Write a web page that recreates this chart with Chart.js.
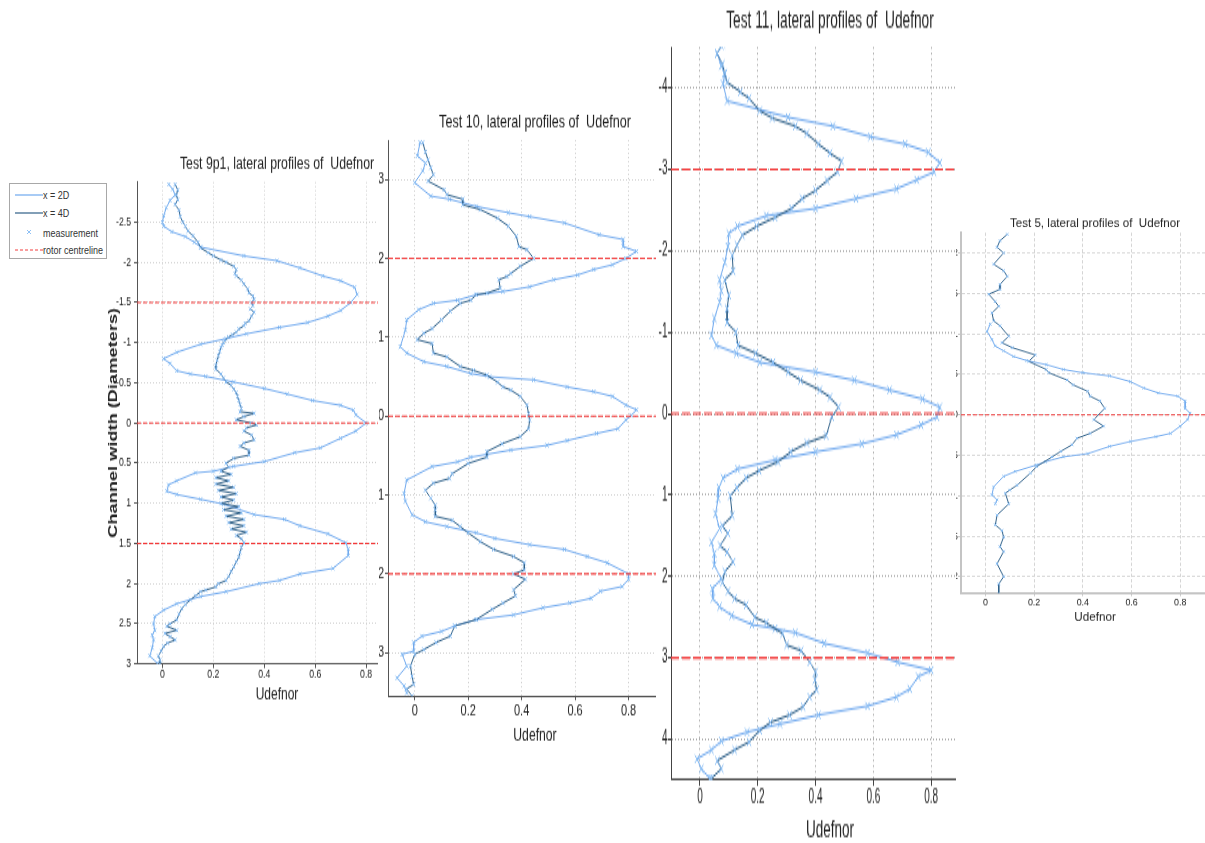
<!DOCTYPE html>
<html>
<head>
<meta charset="utf-8">
<title>Lateral profiles of Udefnor</title>
<script src="https://cdn.jsdelivr.net/npm/chart.js@4.4.0/dist/chart.umd.min.js"></script>
<style>
  html, body { margin: 0; padding: 0; background: #fff; }
  body { width: 1205px; height: 843px; position: relative; overflow: hidden;
         font-family: "Liberation Sans", Arial, sans-serif; }
  .panel { position: absolute; overflow: hidden; }
  .panel canvas { position: absolute; transform-origin: 0 0; }
  #legend { position: absolute; left: 9px; top: 183px; width: 96px; height: 74px;
            border: 1px solid #a8a8a8; background: #fff; font-size: 9px; color: #333; }
  #legend svg { position: absolute; left: 5px; }
  #legend span { position: absolute; left: 33px; line-height: 10px; white-space: nowrap;
                 transform: scaleY(1.2); transform-origin: 0 50%; }
</style>
</head>
<body>

<div class="panel" id="box9"><canvas id="chart9"></canvas></div>
<div class="panel" id="box10"><canvas id="chart10"></canvas></div>
<div class="panel" id="box11"><canvas id="chart11"></canvas></div>
<div class="panel" id="box5"><canvas id="chart5"></canvas></div>

<div id="legend">
  <svg width="28" height="6" style="top:8px"><line x1="0" y1="3" x2="28" y2="3" stroke="#6fa8ee" stroke-width="1.2"/></svg>
  <span style="top:6px">x = 2D</span>
  <svg width="28" height="6" style="top:26px"><line x1="0" y1="3" x2="28" y2="3" stroke="#2f6088" stroke-width="1.2"/></svg>
  <span style="top:24px">x = 4D</span>
  <svg width="28" height="8" style="top:44px"><path d="M12 2 L16 6 M16 2 L12 6" stroke="#8fc1f5" stroke-width="1"/></svg>
  <span style="top:44px">measurement</span>
  <svg width="28" height="6" style="top:63px"><line x1="0" y1="3" x2="28" y2="3" stroke="#f23c3c" stroke-width="1" stroke-dasharray="3,2"/></svg>
  <span style="top:61px">rotor centreline</span>
</div>

<script>
// ---- data: [channel width (diameters), Udefnor] ----
const udefRange = [-0.1, 1.0];
const udefTicks = [0, 0.2, 0.4, 0.6, 0.8];

// Test 9p1
const t9Ticks = [-2.5, -2, -1.5, -1, -0.5, 0, 0.5, 1, 1.5, 2, 2.5, 3];
const t9Centres = [-1.5, 0, 1.5];
const t9_2D = [[-2.97,0.025],[-2.91,0.04],[-2.84,0.05],[-2.77,0.03],[-2.68,0.015],[-2.58,0.005],[-2.50,0.0],
  [-2.45,0.005],[-2.38,0.037],[-2.32,0.09],[-2.25,0.125],[-2.19,0.15],[-2.08,0.32],[-2.02,0.45],[-1.93,0.54],
  [-1.83,0.63],[-1.77,0.70],[-1.69,0.755],[-1.60,0.765],[-1.50,0.74],[-1.40,0.70],[-1.33,0.65],[-1.25,0.57],
  [-1.19,0.46],[-1.11,0.33],[-1.05,0.25],[-0.98,0.15],[-0.88,0.056],[-0.80,0.004],[-0.74,0.03],[-0.65,0.056],
  [-0.61,0.11],[-0.58,0.17],[-0.51,0.28],[-0.43,0.40],[-0.36,0.49],[-0.28,0.59],[-0.22,0.70],[-0.16,0.75],
  [-0.10,0.76],[0.0,0.80],[0.10,0.76],[0.19,0.70],[0.31,0.62],[0.37,0.52],[0.48,0.40],[0.54,0.28],[0.60,0.20],
  [0.62,0.13],[0.72,0.056],[0.77,0.024],[0.85,0.017],[0.89,0.056],[0.95,0.15],[1.01,0.24],[1.14,0.36],
  [1.20,0.48],[1.28,0.54],[1.38,0.65],[1.49,0.72],[1.57,0.73],[1.65,0.73],[1.81,0.67],[1.88,0.54],[1.96,0.46],
  [2.00,0.38],[2.10,0.25],[2.16,0.15],[2.25,0.056],[2.33,0.004],[2.41,-0.03],[2.50,-0.035],[2.58,-0.03],
  [2.64,-0.04],[2.70,-0.035],[2.80,-0.04],[2.90,-0.05],[2.99,-0.02]];
const t9_4D = [[-2.97,0.05],[-2.90,0.06],[-2.84,0.055],[-2.78,0.06],[-2.72,0.05],[-2.65,0.065],[-2.57,0.07],
  [-2.50,0.08],[-2.45,0.09],[-2.39,0.10],[-2.33,0.12],[-2.25,0.14],[-2.18,0.15],[-2.12,0.18],[-2.08,0.20],
  [-2.03,0.23],[-2.00,0.25],[-1.95,0.28],[-1.91,0.29],[-1.86,0.285],[-1.83,0.29],[-1.78,0.31],[-1.73,0.32],
  [-1.67,0.335],[-1.62,0.34],[-1.58,0.355],[-1.54,0.36],[-1.50,0.35],[-1.46,0.355],[-1.42,0.345],[-1.38,0.36],
  [-1.33,0.35],[-1.27,0.34],[-1.24,0.325],[-1.21,0.32],[-1.17,0.30],[-1.13,0.29],[-1.10,0.275],[-1.07,0.26],
  [-1.03,0.245],[-1.00,0.24],[-0.97,0.235],[-0.94,0.23],[-0.89,0.225],[-0.84,0.22],[-0.78,0.215],[-0.72,0.21],
  [-0.67,0.21],[-0.61,0.23],[-0.56,0.24],[-0.51,0.25],[-0.47,0.27],[-0.42,0.28],[-0.38,0.29],[-0.33,0.295],
  [-0.28,0.30],[-0.23,0.305],[-0.18,0.31],[-0.14,0.305],[-0.12,0.36],[-0.08,0.32],[-0.04,0.29],[0.0,0.35],
  [0.025,0.37],[0.06,0.33],[0.10,0.32],[0.15,0.35],[0.21,0.36],[0.25,0.32],[0.29,0.305],[0.34,0.34],[0.40,0.34],
  [0.44,0.28],[0.50,0.25],[0.55,0.26],[0.60,0.23],[0.64,0.27],[0.68,0.21],[0.72,0.26],[0.76,0.21],[0.80,0.28],
  [0.84,0.22],[0.88,0.29],[0.92,0.23],[0.96,0.28],[1.00,0.23],[1.04,0.30],[1.08,0.24],[1.12,0.31],[1.16,0.25],
  [1.20,0.32],[1.24,0.26],[1.28,0.32],[1.32,0.27],[1.36,0.33],[1.40,0.29],[1.44,0.31],[1.49,0.32],[1.55,0.31],
  [1.61,0.305],[1.67,0.30],[1.73,0.29],[1.79,0.28],[1.85,0.27],[1.91,0.26],[1.96,0.25],[2.00,0.22],[2.04,0.21],
  [2.08,0.17],[2.10,0.15],[2.15,0.13],[2.20,0.11],[2.26,0.09],[2.31,0.076],[2.38,0.065],[2.45,0.056],[2.50,0.03],
  [2.53,0.017],[2.58,0.056],[2.62,0.01],[2.66,0.03],[2.70,0.05],[2.74,0.02],[2.78,0.004],[2.84,-0.005],
  [2.90,-0.016],[2.95,-0.01],[3.0,-0.01]];

// Test 10
const t10Ticks = [-3, -2, -1, 0, 1, 2, 3];
const t10Centres = [-2, 0, 2];
const t10_2D = [[-3.47,0.02],[-3.30,0.01],[-3.21,0.04],[-3.11,0.03],[-2.96,0.0],[-2.79,0.06],[-2.75,0.13],
  [-2.66,0.23],[-2.58,0.35],[-2.53,0.43],[-2.45,0.56],[-2.30,0.69],[-2.24,0.78],[-2.15,0.78],[-2.09,0.83],
  [-2.00,0.79],[-1.92,0.74],[-1.86,0.67],[-1.79,0.61],[-1.73,0.52],[-1.64,0.43],[-1.58,0.33],[-1.54,0.23],
  [-1.47,0.16],[-1.43,0.07],[-1.35,0.015],[-1.22,-0.03],[-1.09,-0.035],[-0.88,-0.054],[-0.80,-0.03],
  [-0.69,0.034],[-0.63,0.12],[-0.54,0.21],[-0.50,0.28],[-0.46,0.445],[-0.37,0.57],[-0.31,0.67],[-0.25,0.74],
  [-0.14,0.79],[-0.08,0.83],[-0.01,0.81],[0.05,0.79],[0.16,0.76],[0.22,0.68],[0.31,0.57],[0.37,0.495],
  [0.43,0.36],[0.52,0.21],[0.58,0.16],[0.64,0.065],[0.81,-0.03],[0.98,-0.04],[1.08,-0.035],[1.25,-0.01],
  [1.34,0.04],[1.40,0.12],[1.48,0.23],[1.55,0.30],[1.63,0.43],[1.69,0.56],[1.78,0.645],[1.86,0.72],[2.00,0.80],
  [2.07,0.80],[2.16,0.776],[2.22,0.695],[2.31,0.66],[2.37,0.58],[2.43,0.48],[2.52,0.37],[2.58,0.23],[2.66,0.15],
  [2.73,0.10],[2.79,0.027],[2.87,-0.004],[2.98,-0.004],[3.02,-0.047],[3.17,-0.03],[3.32,-0.066],[3.42,-0.04],
  [3.51,-0.03]];
const t10_4D = [[-3.47,0.03],[-3.35,0.04],[-3.25,0.05],[-3.15,0.06],[-3.06,0.07],[-2.98,0.05],[-2.87,0.11],
  [-2.81,0.12],[-2.75,0.18],[-2.68,0.18],[-2.62,0.245],[-2.51,0.31],[-2.41,0.35],[-2.28,0.38],[-2.15,0.39],
  [-2.11,0.42],[-2.00,0.445],[-1.90,0.395],[-1.81,0.36],[-1.77,0.345],[-1.73,0.315],[-1.62,0.32],[-1.56,0.27],
  [-1.54,0.23],[-1.47,0.21],[-1.43,0.17],[-1.33,0.133],[-1.22,0.10],[-1.11,0.065],[-1.05,0.034],[-0.97,0.009],
  [-0.92,0.065],[-0.80,0.07],[-0.75,0.12],[-0.63,0.17],[-0.58,0.22],[-0.52,0.27],[-0.43,0.31],[-0.37,0.33],
  [-0.33,0.36],[-0.25,0.395],[-0.14,0.42],[-0.03,0.426],[0.05,0.43],[0.16,0.426],[0.26,0.395],[0.35,0.327],
  [0.45,0.27],[0.52,0.27],[0.60,0.20],[0.73,0.14],[0.79,0.13],[0.85,0.07],[0.94,0.04],[1.04,0.06],[1.13,0.077],
  [1.19,0.077],[1.27,0.077],[1.32,0.14],[1.40,0.17],[1.48,0.20],[1.59,0.245],[1.69,0.295],[1.78,0.37],
  [1.86,0.41],[1.95,0.41],[2.00,0.37],[2.07,0.414],[2.20,0.37],[2.28,0.377],[2.37,0.33],[2.45,0.29],[2.58,0.23],
  [2.66,0.15],[2.79,0.133],[2.87,0.08],[2.96,0.034],[3.02,0.0],[3.17,-0.016],[3.30,-0.01],[3.40,-0.004],
  [3.46,-0.03],[3.55,-0.01]];

// Test 11
const t11Ticks = [-4, -3, -2, -1, 0, 1, 2, 3, 4];
const t11Centres = [-3, 0, 3];
const t11_2D = [[-4.54,0.08],[-4.42,0.06],[-4.27,0.074],[-4.17,0.086],[-4.05,0.08],[-3.84,0.094],[-3.64,0.305],
  [-3.53,0.46],[-3.40,0.59],[-3.31,0.71],[-3.21,0.79],[-3.08,0.83],[-2.97,0.81],[-2.87,0.75],[-2.76,0.68],
  [-2.64,0.54],[-2.52,0.40],[-2.43,0.23],[-2.30,0.13],[-2.21,0.10],[-2.05,0.097],[-1.86,0.086],[-1.64,0.068],
  [-1.51,0.074],[-1.37,0.068],[-1.17,0.05],[-0.96,0.04],[-0.84,0.057],[-0.74,0.126],[-0.63,0.207],[-0.51,0.40],
  [-0.41,0.534],[-0.29,0.656],[-0.18,0.77],[-0.08,0.83],[0.04,0.82],[0.14,0.765],[0.26,0.68],[0.37,0.56],
  [0.47,0.40],[0.57,0.26],[0.68,0.13],[0.79,0.08],[0.91,0.066],[1.04,0.063],[1.23,0.054],[1.41,0.068],
  [1.58,0.04],[1.72,0.05],[1.86,0.05],[2.03,0.074],[2.15,0.043],[2.27,0.045],[2.37,0.068],[2.48,0.11],
  [2.59,0.18],[2.64,0.26],[2.69,0.33],[2.82,0.43],[2.94,0.58],[3.05,0.684],[3.15,0.80],[3.23,0.755],
  [3.38,0.726],[3.48,0.68],[3.59,0.58],[3.70,0.41],[3.81,0.277],[3.91,0.163],[4.02,0.074],[4.13,0.04],
  [4.24,-0.01],[4.36,0.005],[4.48,0.034]];
const t11_4D = [[-4.52,0.074],[-4.42,0.06],[-4.29,0.078],[-4.18,0.085],[-4.07,0.094],[-3.95,0.14],[-3.87,0.17],
  [-3.72,0.207],[-3.63,0.25],[-3.53,0.33],[-3.44,0.37],[-3.31,0.41],[-3.20,0.45],[-3.10,0.49],[-2.97,0.476],
  [-2.86,0.44],[-2.74,0.40],[-2.64,0.354],[-2.52,0.317],[-2.41,0.26],[-2.30,0.196],[-2.19,0.147],[-2.07,0.128],
  [-1.94,0.112],[-1.75,0.115],[-1.64,0.086],[-1.45,0.10],[-1.29,0.094],[-1.12,0.094],[-1.00,0.124],[-0.84,0.132],
  [-0.74,0.193],[-0.63,0.253],[-0.51,0.305],[-0.41,0.348],[-0.29,0.415],[-0.20,0.45],[-0.08,0.48],[0.04,0.456],
  [0.27,0.437],[0.36,0.37],[0.47,0.314],[0.59,0.27],[0.70,0.205],[0.79,0.16],[0.91,0.128],[1.01,0.105],
  [1.25,0.112],[1.38,0.078],[1.47,0.097],[1.62,0.07],[1.70,0.094],[1.82,0.115],[1.94,0.086],[2.07,0.078],
  [2.18,0.097],[2.27,0.12],[2.35,0.16],[2.50,0.19],[2.57,0.23],[2.70,0.286],[2.84,0.30],[2.91,0.35],[3.05,0.38],
  [3.17,0.40],[3.27,0.398],[3.39,0.404],[3.48,0.38],[3.60,0.357],[3.70,0.31],[3.79,0.244],[3.89,0.207],
  [4.03,0.17],[4.13,0.12],[4.26,0.06],[4.36,0.074],[4.48,0.04]];

// Test 5
const t5Ticks = [-2, -1.5, -1, -0.5, 0, 0.5, 1, 1.5, 2];
const t5Centres = [0];
const t5_2D = [[-1.12,0.02],[-1.03,0.007],[-0.93,0.027],[-0.85,0.04],[-0.79,0.075],[-0.72,0.116],[-0.67,0.17],
  [-0.62,0.25],[-0.56,0.32],[-0.52,0.40],[-0.48,0.51],[-0.41,0.595],[-0.33,0.65],[-0.27,0.71],[-0.23,0.79],
  [-0.17,0.82],[-0.08,0.82],[-0.02,0.84],[0.06,0.83],[0.14,0.80],[0.23,0.76],[0.27,0.70],[0.33,0.595],
  [0.39,0.51],[0.48,0.42],[0.52,0.32],[0.58,0.246],[0.62,0.21],[0.70,0.123],[0.76,0.075],[0.89,0.034],
  [0.99,0.027],[1.05,0.048],[1.10,0.041]];
const t5_4D = [[-2.23,0.09],[-2.15,0.06],[-2.07,0.048],[-2.0,0.075],[-1.86,0.034],[-1.78,0.075],[-1.71,0.09],
  [-1.61,0.06],[-1.55,0.06],[-1.49,0.014],[-1.40,0.04],[-1.34,0.055],[-1.26,0.027],[-1.16,0.034],[-1.10,0.06],
  [-0.97,0.096],[-0.89,0.068],[-0.83,0.11],[-0.74,0.205],[-0.66,0.178],[-0.56,0.25],[-0.52,0.26],[-0.43,0.335],
  [-0.37,0.36],[-0.29,0.42],[-0.23,0.43],[-0.17,0.47],[-0.08,0.49],[0.06,0.445],[0.14,0.485],[0.23,0.43],
  [0.29,0.376],[0.37,0.356],[0.45,0.31],[0.52,0.274],[0.64,0.21],[0.72,0.185],[0.87,0.13],[0.93,0.10],
  [0.97,0.082],[1.10,0.096],[1.24,0.048],[1.36,0.041],[1.43,0.068],[1.51,0.075],[1.63,0.06],[1.69,0.075],
  [1.84,0.048],[2.0,0.075],[2.09,0.055],[2.21,0.055]];

// ---- styling ----
const FONT = '"Liberation Sans", Arial, sans-serif';
const TEXT = '#222';
const LIGHT = '#6fa8ee';
const MARK = '#86bcf3';
const DARK = '#2f6088';
const RED = '#f23c3c';

const toPoints = pairs => pairs.map(([w, u]) => ({ x: u, y: w }));

// each panel is drawn unstretched and then scaled vertically (stretch)
function drawPanel(id, g) {
  const s = g.stretch;
  const left = g.area.left - g.yAxisW;
  const width = Math.ceil(g.area.right - left);
  const top = g.titleY - s * 0.6 * g.titleSize;
  const headH = (g.area.top - top) / s;
  const plotH = (g.area.bottom - g.area.top) / s;
  const footH = (g.xTitleY - g.area.bottom) / s + 0.6 * g.xTitleSize;
  const height = Math.ceil(headH + plotH + footH);
  const xAxisH = height - headH - plotH;
  const tl = 3;
  const xTickPad = Math.max(0, (g.xTickY - g.area.bottom) / s - tl - 0.6 * g.tickSize);

  const box = document.getElementById('box' + id);
  box.style.left = g.clip[0] + 'px';
  box.style.top = g.clip[1] + 'px';
  box.style.width = (g.clip[2] - g.clip[0]) + 'px';
  box.style.height = (g.clip[3] - g.clip[1]) + 'px';

  const cv = document.getElementById('chart' + id);
  cv.width = width;
  cv.height = height;
  cv.style.width = width + 'px';
  cv.style.height = height + 'px';
  cv.style.left = (left - g.clip[0]) + 'px';
  cv.style.top = (top - g.clip[1]) + 'px';
  cv.style.transform = 'scaleY(' + s + ')';

  const zeroPad = sc => { sc.paddingLeft = 0; sc.paddingRight = 0; sc.paddingTop = 0; sc.paddingBottom = 0; };
  const gridOpts = { color: g.gridColor, lineWidth: 1, drawTicks: true, tickLength: tl, tickColor: g.axisColor };
  const borderOpts = { display: true, color: g.axisColor, width: g.axisWidth, dash: g.gridDash };

  const series = (data, color, order) => ({
    data: toPoints(data), showLine: true, borderColor: color, borderWidth: 1,
    pointStyle: 'crossRot', pointRadius: g.marker, pointBorderColor: MARK, pointBorderWidth: 1,
    pointBackgroundColor: 'rgba(0,0,0,0)', order: order
  });
  const datasets = [series(g.s2D, LIGHT, 2), series(g.s4D, DARK, 1)];
  g.centres.forEach(c => datasets.push({
    data: [{ x: udefRange[0], y: c }, { x: udefRange[1], y: c }], showLine: true,
    borderColor: RED, borderWidth: 1.1, borderDash: g.redDash, pointRadius: 0, order: 0
  }));

  new Chart(cv, {
    type: 'scatter',
    data: { datasets },
    options: {
      responsive: false, animation: false, devicePixelRatio: 1,
      layout: { autoPadding: false, padding: 0 },
      plugins: {
        legend: { display: false },
        tooltip: { enabled: false },
        title: {
          display: true, text: g.title, color: TEXT, fullSize: false,
          font: { family: FONT, size: g.titleSize, weight: 'normal', lineHeight: 1.2 },
          padding: { top: 0, bottom: headH - 1.2 * g.titleSize }
        }
      },
      scales: {
        x: {
          type: 'linear', position: 'bottom', min: udefRange[0], max: udefRange[1],
          afterBuildTicks: sc => { sc.ticks = udefTicks.map(v => ({ value: v })); },
          afterFit: sc => { sc.height = xAxisH; zeroPad(sc); },
          ticks: { autoSkip: false, maxRotation: 0, padding: xTickPad, color: TEXT,
                   font: { family: FONT, size: g.tickSize, lineHeight: 1.2 }, callback: v => String(v) },
          grid: gridOpts, border: borderOpts,
          title: { display: true, text: 'Udefnor', color: TEXT, padding: 0,
                   font: { family: FONT, size: g.xTitleSize, lineHeight: 1.2 } }
        },
        y: {
          type: 'linear', position: 'left', reverse: true, min: g.range[0], max: g.range[1],
          afterBuildTicks: sc => { sc.ticks = g.ticks.map(v => ({ value: v })); },
          afterFit: sc => { sc.width = g.yAxisW; zeroPad(sc); },
          ticks: { autoSkip: false, padding: g.yLabelGap - tl, color: TEXT,
                   font: { family: FONT, size: g.tickSize, lineHeight: 1.2 }, callback: v => String(v) },
          grid: gridOpts, border: borderOpts,
          title: g.yTitle ? {
            display: true, text: g.yTitle.text, color: TEXT,
            font: { family: FONT, size: g.yTitle.size, weight: 'bold', lineHeight: 1.2 },
            padding: { top: g.yTitle.x - left - 0.6 * g.yTitle.size, bottom: 0 }
          } : { display: false }
        }
      }
    }
  });
}

drawPanel('9', {
  title: 'Test 9p1, lateral profiles of  Udefnor', s2D: t9_2D, s4D: t9_4D, centres: t9Centres,
  ticks: t9Ticks, range: [-3, 3], stretch: 1.35,
  area: { left: 137, right: 417, top: 182, bottom: 664 }, clip: [90, 140, 378, 720],
  yAxisW: 40, yLabelGap: 6, titleY: 164, titleSize: 12.3, tickSize: 8.7,
  xTickY: 675, xTitleY: 695, xTitleSize: 12,
  yTitle: { text: 'Channel width (Diameters)', size: 13.5, x: 113 },
  marker: 2, redDash: [4, 2], gridColor: '#d0d0d0', gridDash: [1, 2], axisColor: '#555', axisWidth: 1
});

drawPanel('10', {
  title: 'Test 10, lateral profiles of  Udefnor', s2D: t10_2D, s4D: t10_4D, centres: t10Centres,
  ticks: t10Ticks, range: [-3.5, 3.55], stretch: 1.4,
  area: { left: 388, right: 681.5, top: 140.5, bottom: 696.5 }, clip: [379, 100, 656, 760],
  yAxisW: 30, yLabelGap: 4, titleY: 123, titleSize: 12.6, tickSize: 11,
  xTickY: 712, xTitleY: 735, xTitleSize: 12.2,
  marker: 2.2, redDash: [5, 2], gridColor: '#cfcfcf', gridDash: [1, 2], axisColor: '#555', axisWidth: 1
});

drawPanel('11', {
  title: 'Test 11, lateral profiles of  Udefnor', s2D: t11_2D, s4D: t11_4D, centres: t11Centres,
  ticks: t11Ticks, range: [-4.5, 4.5], stretch: 1.9,
  area: { left: 671, right: 989, top: 47.5, bottom: 780.5 }, clip: [656, 0, 956, 843],
  yAxisW: 25, yLabelGap: 3.5, titleY: 21, titleSize: 13.7, tickSize: 10,
  xTickY: 797.5, xTitleY: 828, xTitleSize: 13.5,
  marker: 3, redDash: [8, 3], gridColor: '#a8a8a8', gridDash: [1, 2], axisColor: '#444', axisWidth: 1
});

drawPanel('5', {
  title: 'Test 5, lateral profiles of  Udefnor', s2D: t5_2D, s4D: t5_4D, centres: t5Centres,
  ticks: t5Ticks, range: [-2.25, 2.2], stretch: 1.1,
  area: { left: 961, right: 1229, top: 233, bottom: 593.2 }, clip: [956, 195, 1205, 640],
  yAxisW: 25, yLabelGap: 3, titleY: 224, titleSize: 11.6, tickSize: 8.9,
  xTickY: 603, xTitleY: 617, xTitleSize: 11.7,
  marker: 1.8, redDash: [4, 2], gridColor: '#d4d4d4', gridDash: [3, 2], axisColor: '#c4c4c4', axisWidth: 2
});
</script>
</body>
</html>
